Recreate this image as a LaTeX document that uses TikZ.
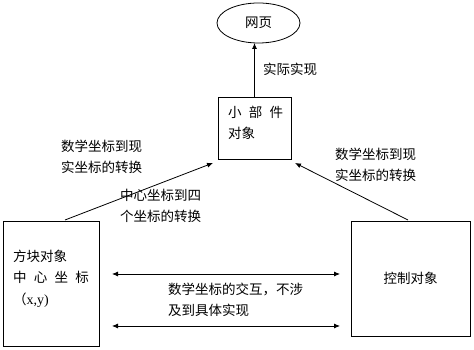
\documentclass[tikz,border=0pt]{standalone}
\usepackage{fontspec}
\setmainfont{Noto Sans CJK SC}
\newfontfamily\latinserif{Liberation Serif}
\usetikzlibrary{arrows.meta,shapes.geometric,calc}
\begin{document}
\begin{tikzpicture}[x=1pt,y=1pt,
  every node/.style={font=\fontsize{13.5}{20.8}\selectfont, inner sep=0pt, outer sep=0pt},
  frame/.style={draw, line width=0.8pt},
  lbl/.style={anchor=west, align=left},
  arr/.style={line width=0.8pt, -{Latex[length=6pt,width=5pt]}},
  darr/.style={line width=0.8pt, {Latex[length=6pt,width=5pt]}-{Latex[length=6pt,width=5pt]}}]
\useasboundingbox (0,0) rectangle (474,350);
\fill[white] (0,0) rectangle (474,350);
% shapes
\node[frame, ellipse, minimum width=83pt, minimum height=40pt] (web) at (258.5,327) {网页};
\node[frame, minimum width=73pt, minimum height=62pt] (widget) at (254.5,222) {};
\node[frame, minimum width=96pt, minimum height=125pt] (block) at (51,66.5) {};
\node[frame, minimum width=119pt, minimum height=115pt] (ctrl) at (410.5,71.5) {控制对象};
% texts
\node[lbl] (wtext) at (228,227) {小\hspace{7.3pt}部\hspace{7.3pt}件\\对象};
\node[lbl] (btext) at (13,71.5) {方块对象\\[0.7pt]中\hspace{7.3pt}心\hspace{7.3pt}坐\hspace{7.3pt}标\\[0.7pt]（{\latinserif\fontsize{14}{20}\selectfont x,y)}};
\node[lbl] (real) at (263,281) {实际实现};
\node[lbl] (lconv) at (61,193.5) {数学坐标到现\\实坐标的转换};
\node[lbl] (cconv) at (120,144) {中心坐标到四\\个坐标的转换};
\node[lbl] (rconv) at (335,185.5) {数学坐标到现\\实坐标的转换};
\node[lbl] (inter) at (168,50) {数学坐标的交互，不涉\\及到具体实现};
% connector ends
\coordinate (wtop) at (widget.north);
\coordinate (lstart) at ($(block.north west)+(62,1)$);
\coordinate (lend) at ($(widget.south west)+(-5,-4)$);
\coordinate (rstart) at ($(ctrl.north west)+(57,1)$);
\coordinate (rend) at ($(widget.south east)+(4,-4)$);
\coordinate (a1l) at ($(block.east)+(13,9.5)$);
\coordinate (a1r) at ($(ctrl.west)+(-11,4.5)$);
\coordinate (a2l) at ($(block.east)+(13,-42.5)$);
\coordinate (a2r) at ($(ctrl.west)+(-11,-47.5)$);
% connectors
\draw[arr] (wtop) -- (wtop |- web.south);
\draw[arr] (lstart) -- (lend);
\draw[arr] (rstart) -- (rend);
\draw[darr] (a1l) -- (a1r);
\draw[darr] (a2l) -- (a2r);
\end{tikzpicture}
\end{document}
